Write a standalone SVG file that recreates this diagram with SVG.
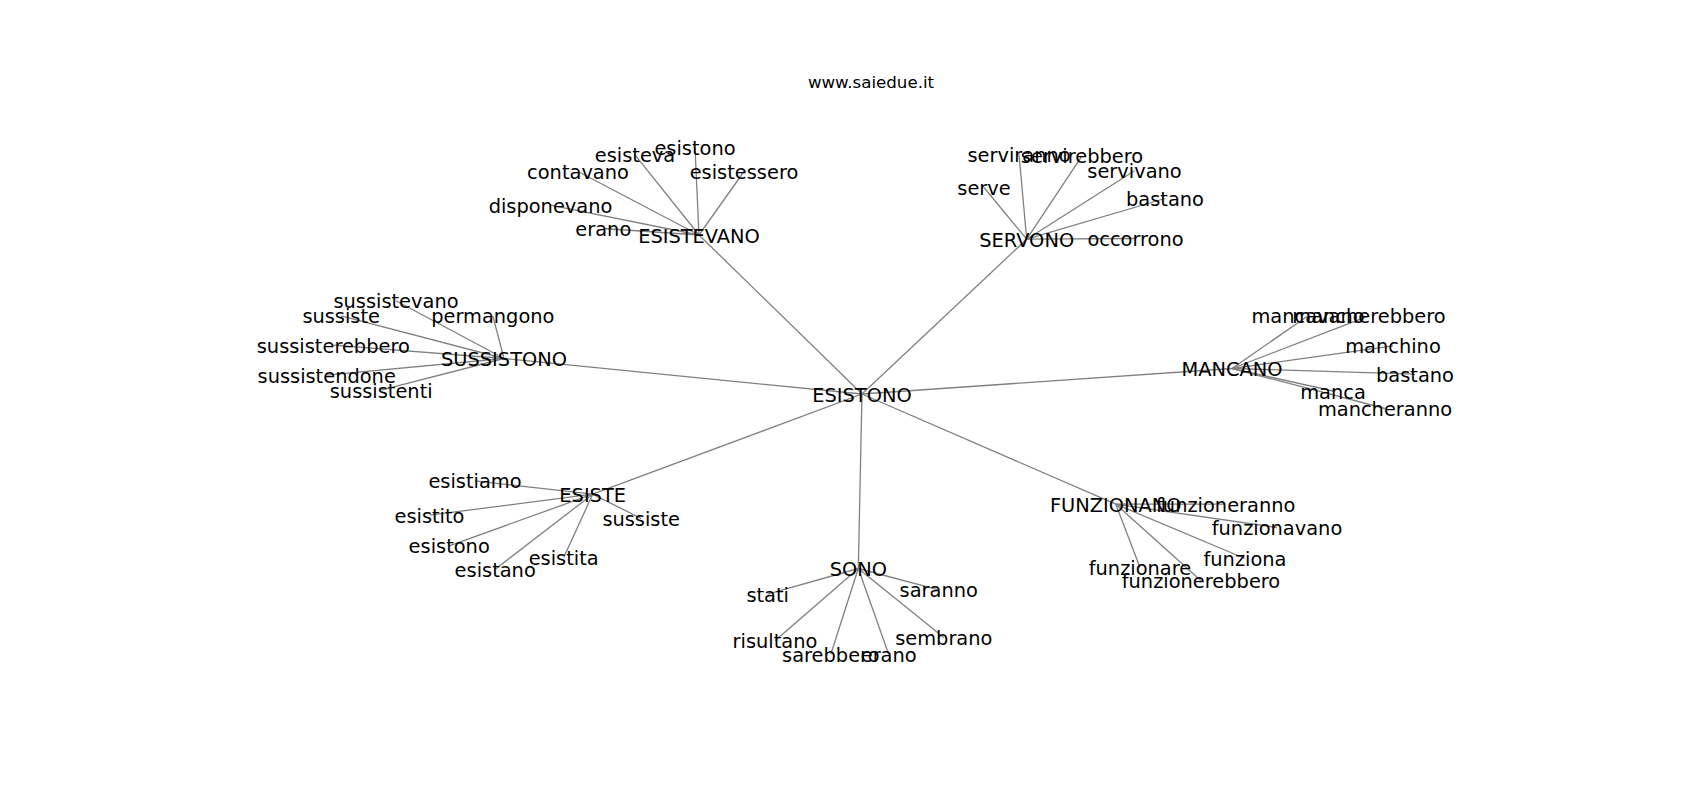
<svg xmlns="http://www.w3.org/2000/svg" width="1700" height="800" viewBox="0 0 1700 800">
<style>
.e{stroke:#808080;stroke-width:1.3;fill:none}
.l{font-family:"DejaVu Sans","Liberation Sans",sans-serif;font-size:19.4px;fill:#000;text-anchor:middle}
.t{font-family:"DejaVu Sans","Liberation Sans",sans-serif;font-size:16.67px;fill:#000;text-anchor:middle}
</style>
<rect width="1700" height="800" fill="#fff"/>
<text class="t" x="871" y="88">www.saiedue.it</text>
<g id="edges">
<line class="e" x1="862" y1="394" x2="699" y2="235"/>
<line class="e" x1="862" y1="394" x2="1026.7" y2="239.2"/>
<line class="e" x1="862" y1="394" x2="504" y2="358.5"/>
<line class="e" x1="862" y1="394" x2="1232" y2="368.5"/>
<line class="e" x1="862" y1="394" x2="592.7" y2="494.2"/>
<line class="e" x1="862" y1="394" x2="858.3" y2="568.5"/>
<line class="e" x1="862" y1="394" x2="1115.8" y2="504.2"/>
<line class="e" x1="699" y1="235" x2="695" y2="147.5"/>
<line class="e" x1="699" y1="235" x2="635" y2="154.8"/>
<line class="e" x1="699" y1="235" x2="578" y2="171.5"/>
<line class="e" x1="699" y1="235" x2="744" y2="171.5"/>
<line class="e" x1="699" y1="235" x2="550.5" y2="205.2"/>
<line class="e" x1="699" y1="235" x2="603.3" y2="228.5"/>
<line class="e" x1="1026.7" y1="239.2" x2="1019" y2="154.2"/>
<line class="e" x1="1026.7" y1="239.2" x2="1082" y2="155.8"/>
<line class="e" x1="1026.7" y1="239.2" x2="1134.5" y2="170.8"/>
<line class="e" x1="1026.7" y1="239.2" x2="984" y2="187.5"/>
<line class="e" x1="1026.7" y1="239.2" x2="1165" y2="198.5"/>
<line class="e" x1="1026.7" y1="239.2" x2="1135.5" y2="238.5"/>
<line class="e" x1="504" y1="358.5" x2="396" y2="300.8"/>
<line class="e" x1="504" y1="358.5" x2="341.2" y2="315.8"/>
<line class="e" x1="504" y1="358.5" x2="492.8" y2="315.8"/>
<line class="e" x1="504" y1="358.5" x2="333.3" y2="345.2"/>
<line class="e" x1="504" y1="358.5" x2="326.7" y2="375.2"/>
<line class="e" x1="504" y1="358.5" x2="381.2" y2="390.2"/>
<line class="e" x1="1232" y1="368.5" x2="1308" y2="315.8"/>
<line class="e" x1="1232" y1="368.5" x2="1369" y2="315.8"/>
<line class="e" x1="1232" y1="368.5" x2="1393" y2="345.8"/>
<line class="e" x1="1232" y1="368.5" x2="1415" y2="374.2"/>
<line class="e" x1="1232" y1="368.5" x2="1333" y2="391"/>
<line class="e" x1="1232" y1="368.5" x2="1385" y2="408.5"/>
<line class="e" x1="592.7" y1="494.2" x2="475" y2="480.8"/>
<line class="e" x1="592.7" y1="494.2" x2="429.5" y2="515.2"/>
<line class="e" x1="592.7" y1="494.2" x2="641.2" y2="518.5"/>
<line class="e" x1="592.7" y1="494.2" x2="449.2" y2="545.8"/>
<line class="e" x1="592.7" y1="494.2" x2="563.7" y2="557.5"/>
<line class="e" x1="592.7" y1="494.2" x2="495.2" y2="569.2"/>
<line class="e" x1="858.3" y1="568.5" x2="767.7" y2="594.2"/>
<line class="e" x1="858.3" y1="568.5" x2="938.7" y2="589.8"/>
<line class="e" x1="858.3" y1="568.5" x2="775" y2="640.8"/>
<line class="e" x1="858.3" y1="568.5" x2="943.8" y2="637.5"/>
<line class="e" x1="858.3" y1="568.5" x2="830.8" y2="654.2"/>
<line class="e" x1="858.3" y1="568.5" x2="888.7" y2="654.2"/>
<line class="e" x1="1115.8" y1="504.2" x2="1225.7" y2="504.2"/>
<line class="e" x1="1115.8" y1="504.2" x2="1277" y2="527.5"/>
<line class="e" x1="1115.8" y1="504.2" x2="1245" y2="558.5"/>
<line class="e" x1="1115.8" y1="504.2" x2="1140" y2="567.5"/>
<line class="e" x1="1115.8" y1="504.2" x2="1201" y2="580.8"/>
</g>
<g id="n-ESISTONO"><text class="l" x="862" y="401.5">ESISTONO</text></g>
<g id="n-ESISTEVANO"><text class="l" x="699" y="242.5">ESISTEVANO</text></g>
<g id="n-esistono-1"><text class="l" x="695" y="155">esistono</text></g>
<g id="n-esisteva"><text class="l" x="635" y="162.3">esisteva</text></g>
<g id="n-contavano"><text class="l" x="578" y="179">contavano</text></g>
<g id="n-esistessero"><text class="l" x="744" y="179">esistessero</text></g>
<g id="n-disponevano"><text class="l" x="550.5" y="212.7">disponevano</text></g>
<g id="n-erano-1"><text class="l" x="603.3" y="236">erano</text></g>
<g id="n-SERVONO"><text class="l" x="1026.7" y="246.7">SERVONO</text></g>
<g id="n-serviranno"><text class="l" x="1019" y="161.7">serviranno</text></g>
<g id="n-servirebbero"><text class="l" x="1082" y="163.3">servirebbero</text></g>
<g id="n-servivano"><text class="l" x="1134.5" y="178.3">servivano</text></g>
<g id="n-serve"><text class="l" x="984" y="195">serve</text></g>
<g id="n-bastano-1"><text class="l" x="1165" y="206">bastano</text></g>
<g id="n-occorrono"><text class="l" x="1135.5" y="246">occorrono</text></g>
<g id="n-SUSSISTONO"><text class="l" x="504" y="366">SUSSISTONO</text></g>
<g id="n-sussistevano"><text class="l" x="396" y="308.3">sussistevano</text></g>
<g id="n-sussiste-1"><text class="l" x="341.2" y="323.3">sussiste</text></g>
<g id="n-permangono"><text class="l" x="492.8" y="323.3">permangono</text></g>
<g id="n-sussisterebbero"><text class="l" x="333.3" y="352.7">sussisterebbero</text></g>
<g id="n-sussistendone"><text class="l" x="326.7" y="382.7">sussistendone</text></g>
<g id="n-sussistenti"><text class="l" x="381.2" y="397.7">sussistenti</text></g>
<g id="n-MANCANO"><text class="l" x="1232" y="376">MANCANO</text></g>
<g id="n-mancavano"><text class="l" x="1308" y="323.3">mancavano</text></g>
<g id="n-mancherebbero"><text class="l" x="1369" y="323.3">mancherebbero</text></g>
<g id="n-manchino"><text class="l" x="1393" y="353.3">manchino</text></g>
<g id="n-bastano-2"><text class="l" x="1415" y="381.7">bastano</text></g>
<g id="n-manca"><text class="l" x="1333" y="398.5">manca</text></g>
<g id="n-mancheranno"><text class="l" x="1385" y="416">mancheranno</text></g>
<g id="n-ESISTE"><text class="l" x="592.7" y="501.7">ESISTE</text></g>
<g id="n-esistiamo"><text class="l" x="475" y="488.3">esistiamo</text></g>
<g id="n-esistito"><text class="l" x="429.5" y="522.7">esistito</text></g>
<g id="n-sussiste-2"><text class="l" x="641.2" y="526">sussiste</text></g>
<g id="n-esistono-2"><text class="l" x="449.2" y="553.3">esistono</text></g>
<g id="n-esistita"><text class="l" x="563.7" y="565">esistita</text></g>
<g id="n-esistano"><text class="l" x="495.2" y="576.7">esistano</text></g>
<g id="n-SONO"><text class="l" x="858.3" y="576">SONO</text></g>
<g id="n-stati"><text class="l" x="767.7" y="601.7">stati</text></g>
<g id="n-saranno"><text class="l" x="938.7" y="597.3">saranno</text></g>
<g id="n-risultano"><text class="l" x="775" y="648.3">risultano</text></g>
<g id="n-sembrano"><text class="l" x="943.8" y="645">sembrano</text></g>
<g id="n-sarebbero"><text class="l" x="830.8" y="661.7">sarebbero</text></g>
<g id="n-erano-2"><text class="l" x="888.7" y="661.7">erano</text></g>
<g id="n-FUNZIONANO"><text class="l" x="1115.8" y="511.7">FUNZIONANO</text></g>
<g id="n-funzioneranno"><text class="l" x="1225.7" y="511.7">funzioneranno</text></g>
<g id="n-funzionavano"><text class="l" x="1277" y="535">funzionavano</text></g>
<g id="n-funziona"><text class="l" x="1245" y="566">funziona</text></g>
<g id="n-funzionare"><text class="l" x="1140" y="575">funzionare</text></g>
<g id="n-funzionerebbero"><text class="l" x="1201" y="588.3">funzionerebbero</text></g>
</svg>
